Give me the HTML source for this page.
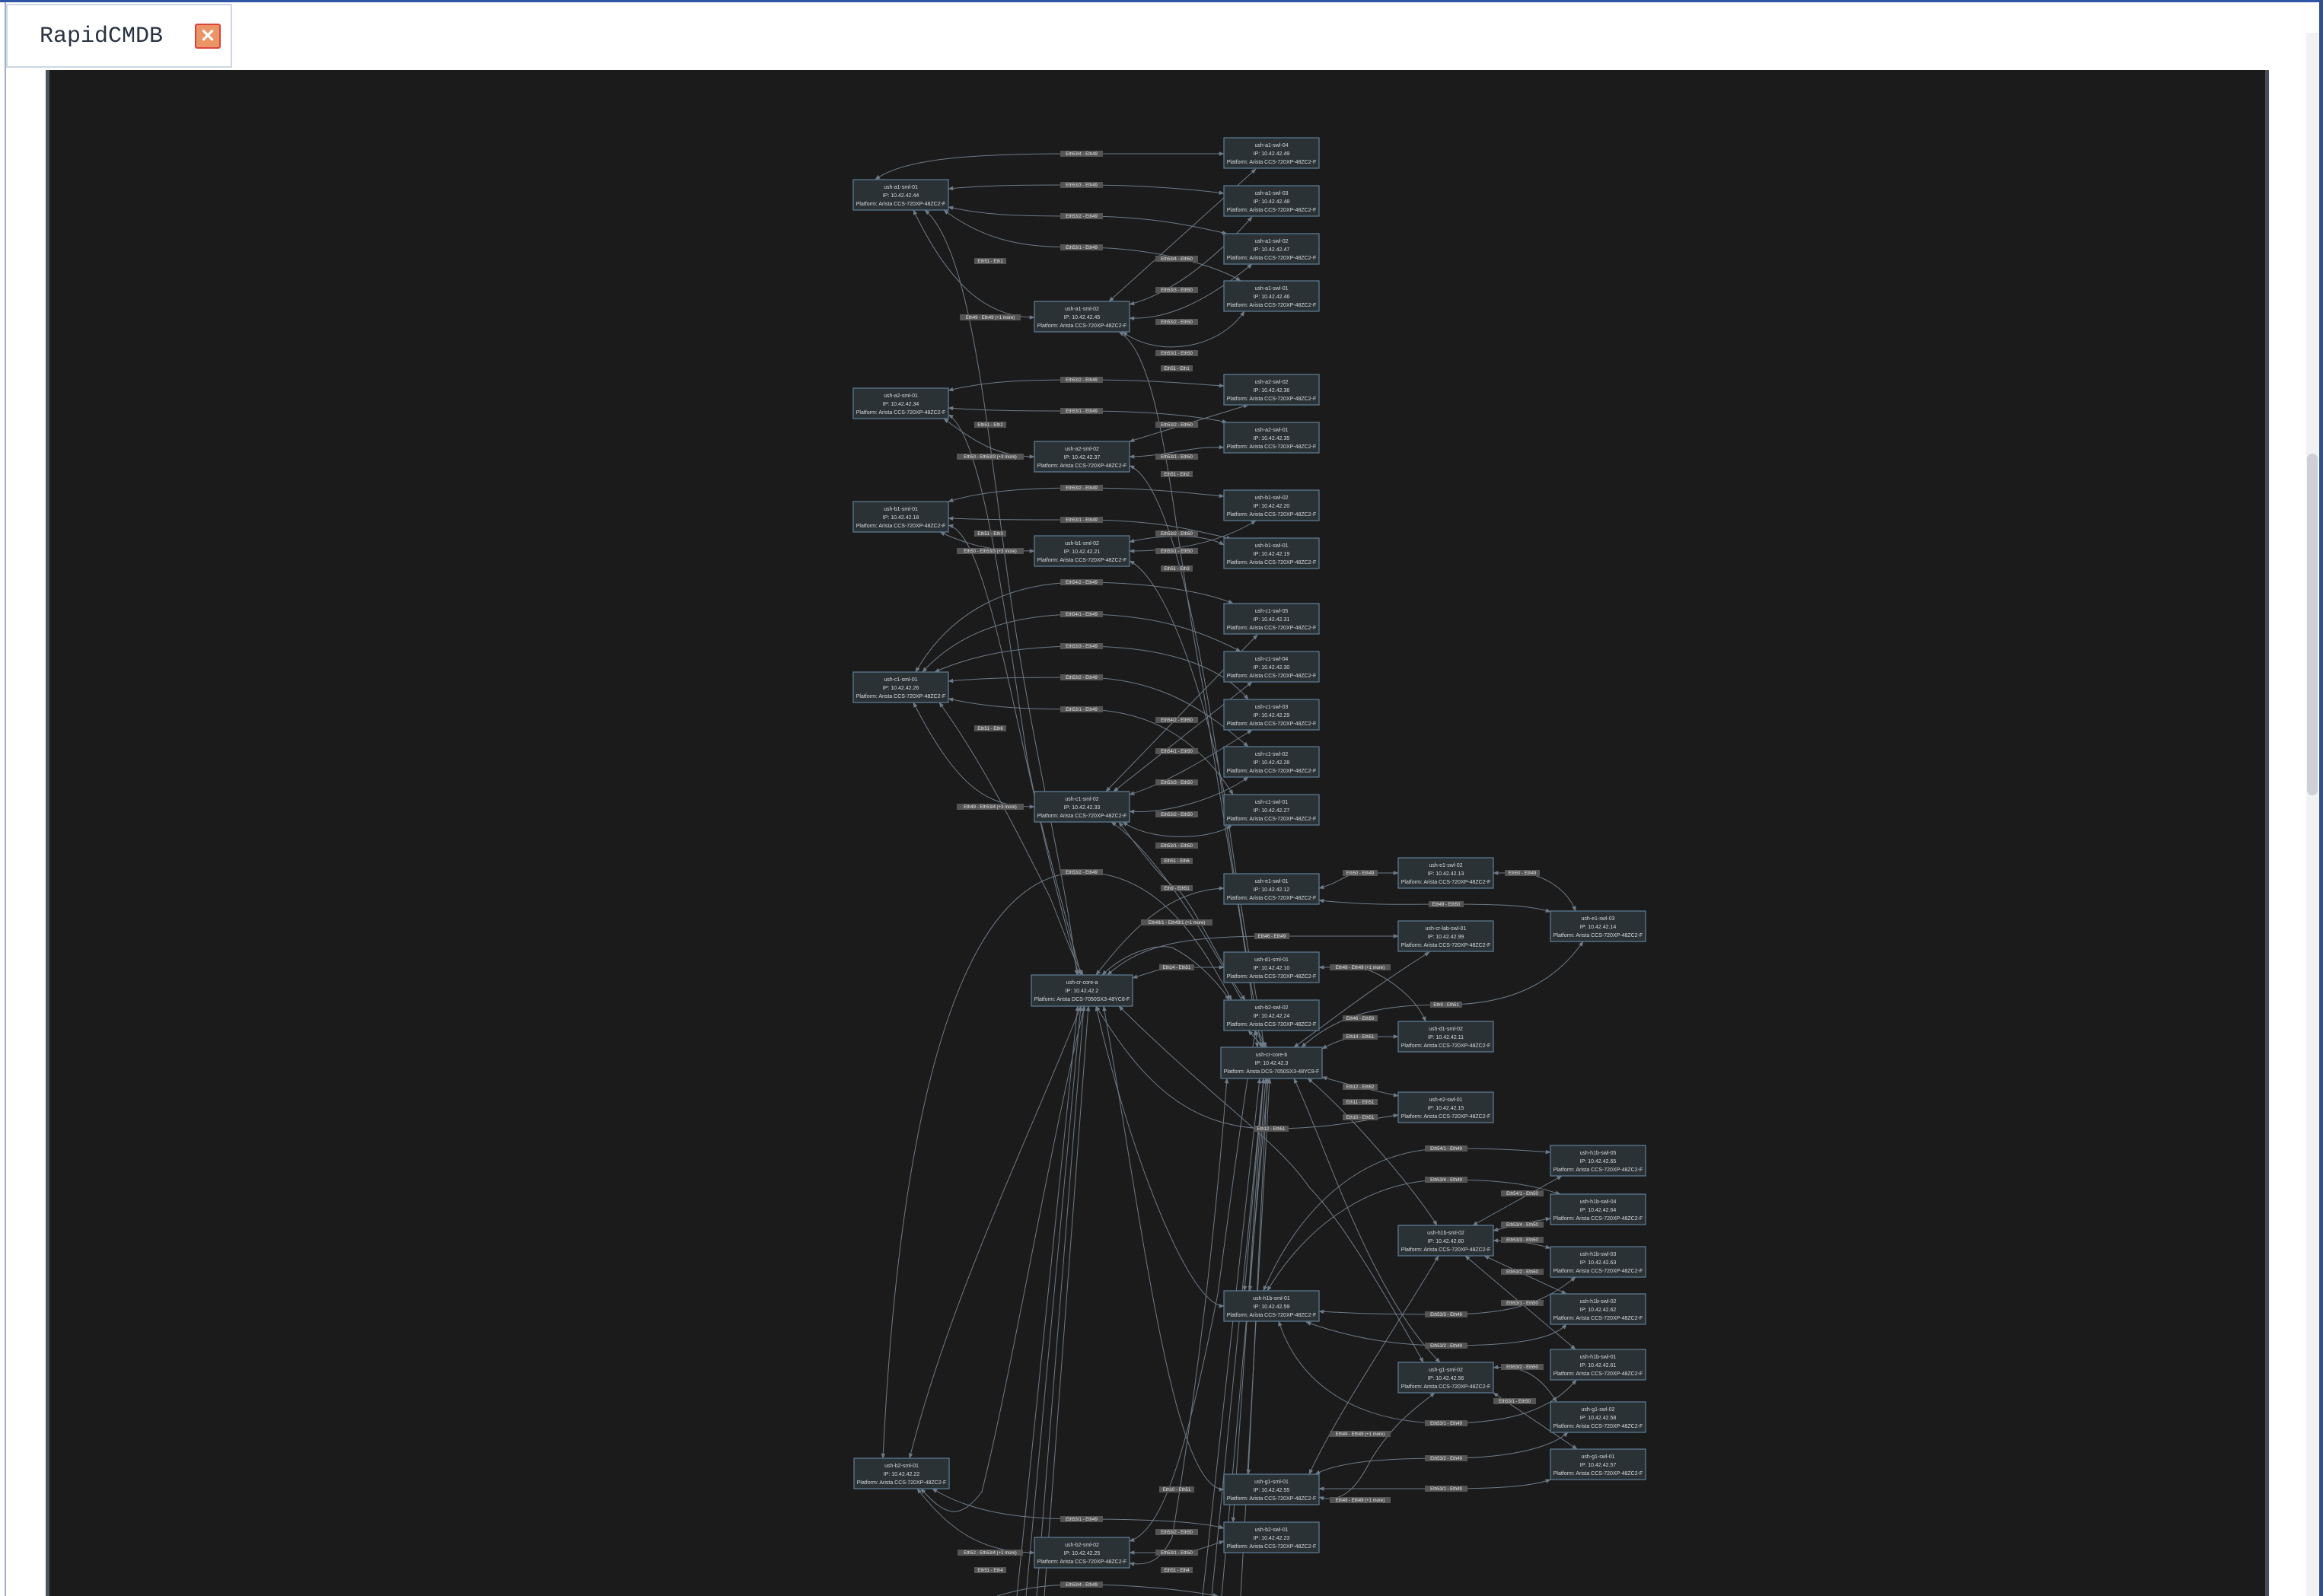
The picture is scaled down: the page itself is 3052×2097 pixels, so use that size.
<!DOCTYPE html>
<html><head><meta charset="utf-8"><style>
html,body{margin:0;padding:0;width:3052px;height:2097px;overflow:hidden;background:#fff;position:relative;font-family:"Liberation Sans",sans-serif}
#topline{position:absolute;left:0;top:0;width:3052px;height:3px;background:#2f55a4}
#leftline{position:absolute;left:6px;top:3px;width:2px;height:2094px;background:#9fb0c8}
#rightline{position:absolute;left:3047px;top:0;width:5px;height:2097px;background:#2f4f8f}
#hdr{position:absolute;left:8px;top:5px;width:293px;height:80px;border:2px solid #cdd6e2;background:#fff}
#hdr span{position:absolute;left:42px;top:24px;font:30px "Liberation Mono",monospace;color:#2a3340}
#x{position:absolute;left:246px;top:24px;width:30px;height:29px;background:#eb9466;border:2px solid #d9443a;border-radius:3px;color:#fff;font:bold 24px "Liberation Sans",sans-serif;text-align:center;line-height:29px}
#pl{position:absolute;left:60px;top:92px;width:5px;height:2005px;background:#4b535c}
#panel{position:absolute;left:65px;top:92px;width:2911px;height:2005px;background:#1b1b1b}
#pr{position:absolute;left:2976px;top:92px;width:5px;height:2005px;background:#474e57}
#track{position:absolute;left:3030px;top:43px;width:16px;height:2054px;background:#f2f2f2}
#thumb{position:absolute;left:3031px;top:596px;width:14px;height:449px;background:#cdd0d5;border-radius:7px}
svg{position:absolute;left:0;top:0}
.n rect{fill:#2b3236;stroke:#5b7890;stroke-width:1.3}
.n text{font-family:"Liberation Sans",sans-serif;font-size:7px;fill:#d8dadc;text-anchor:middle}
path.e{fill:none;stroke:#6e7a86;stroke-width:1;marker-start:url(#a);marker-end:url(#a)}
path.f{fill:none;stroke:#6e7a86;stroke-width:1;marker-end:url(#a)}
.l rect{fill:#545454}
.l text{font-family:"Liberation Sans",sans-serif;font-size:6px;fill:#e8e8e8;text-anchor:middle}
</style></head><body>
<div id="topline"></div><div id="leftline"></div>
<div id="hdr"><span>RapidCMDB</span><div id="x">✕</div></div>
<div id="pl"></div><div id="panel"></div><div id="pr"></div>
<div id="track"></div><div id="thumb"></div><div id="rightline"></div>
<svg width="3052" height="2097" viewBox="0 0 3052 2097">
<defs><marker id="a" viewBox="0 0 10 10" refX="9" refY="5" markerWidth="7" markerHeight="7" markerUnits="userSpaceOnUse" orient="auto-start-reverse"><path d="M0,1L10,5L0,9z" fill="#6e7a86"/></marker></defs>
<g>
<!-- a1 -->
<path class="e" d="M1150,236 C1190,205 1300,202 1421,202 L1608,202"/>
<path class="e" d="M1246,248 C1300,243 1350,243 1421,243 C1500,243 1560,248 1608,254"/>
<path class="e" d="M1246,272 C1300,284 1350,284 1421,284 C1520,284 1580,300 1612,307"/>
<path class="e" d="M1240,276 C1300,320 1350,325 1421,325 C1520,325 1600,350 1630,369"/>
<path class="e" d="M1457,396 L1650,222"/>
<path class="e" d="M1484,400 Q1560,380 1645,285"/>
<path class="e" d="M1484,418 C1530,420 1580,400 1645,347"/>
<path class="e" d="M1475,436 C1520,470 1600,460 1635,409"/>
<path class="e" d="M1200,276 C1250,380 1300,417 1359,417"/>
<path class="e" d="M1215,276 C1280,330 1300,600 1330,800 C1360,1000 1400,1150 1415,1281"/>
<path class="e" d="M1470,436 C1530,470 1540,700 1580,900 C1610,1100 1640,1250 1652,1376"/>
<!-- a2 -->
<path class="e" d="M1246,513 C1300,500 1350,499 1421,499 C1520,499 1570,505 1608,507"/>
<path class="e" d="M1246,536 C1300,540 1350,540 1421,540 C1520,540 1580,548 1612,555"/>
<path class="e" d="M1484,580 L1640,532"/>
<path class="e" d="M1484,600 C1530,600 1570,585 1608,588"/>
<path class="e" d="M1240,550 C1280,580 1310,600 1359,600"/>
<path class="e" d="M1246,545 C1290,570 1320,800 1350,1000 C1380,1150 1405,1230 1417,1281"/>
<path class="e" d="M1484,612 C1530,630 1570,800 1600,1000 C1620,1150 1645,1300 1657,1376"/>
<!-- b1 -->
<path class="e" d="M1246,659 C1290,645 1350,641 1421,641 C1520,641 1580,650 1608,652"/>
<path class="e" d="M1246,681 C1300,683 1350,683 1421,683 C1530,683 1580,700 1618,708"/>
<path class="e" d="M1484,712 C1520,703 1580,700 1608,716"/>
<path class="e" d="M1484,724 C1540,724 1600,715 1650,684"/>
<path class="e" d="M1235,699 C1280,720 1310,724 1359,724"/>
<path class="e" d="M1246,690 C1290,700 1320,880 1360,1050 C1390,1170 1410,1240 1420,1281"/>
<path class="e" d="M1484,737 C1530,760 1580,900 1610,1050 C1630,1200 1650,1300 1661,1376"/>
<!-- c1 -->
<path class="e" d="M1203,883 C1250,800 1330,765 1421,765 C1520,765 1590,780 1620,793"/>
<path class="e" d="M1212,883 C1260,830 1330,807 1421,807 C1520,807 1580,830 1630,856"/>
<path class="e" d="M1228,883 C1280,860 1340,849 1421,849 C1520,849 1600,870 1640,919"/>
<path class="e" d="M1246,895 C1300,890 1350,890 1421,890 C1520,890 1580,930 1640,981"/>
<path class="e" d="M1246,918 C1300,930 1350,932 1421,932 C1520,932 1580,980 1620,1044"/>
<path class="e" d="M1453,1040 L1652,834"/>
<path class="e" d="M1463,1040 L1645,896"/>
<path class="e" d="M1484,1044 C1530,1030 1580,1000 1645,959"/>
<path class="e" d="M1484,1066 C1530,1070 1600,1050 1640,1021"/>
<path class="e" d="M1475,1080 C1520,1110 1600,1100 1618,1084"/>
<path class="e" d="M1200,923 C1260,1040 1300,1060 1359,1060"/>
<path class="e" d="M1234,923 C1290,1000 1340,1100 1380,1180 C1400,1230 1410,1260 1423,1281"/>
<path class="e" d="M1460,1080 C1520,1120 1600,1250 1664,1376"/>
<!-- core area -->
<path class="e" d="M1160,1916 C1180,1500 1250,1146 1421,1146 C1500,1146 1560,1200 1618,1314"/>
<path class="e" d="M1440,1281 C1480,1230 1530,1170 1608,1167"/>
<path class="e" d="M1455,1281 C1500,1240 1560,1230 1671,1230 L1837,1230"/>
<path class="e" d="M1488,1285 C1520,1275 1530,1271 1546,1271 L1608,1271"/>
<path class="e" d="M1448,1281 C1480,1250 1520,1240 1540,1245 C1570,1260 1600,1290 1615,1314"/>
<path class="e" d="M1470,1080 C1500,1120 1530,1160 1546,1167 C1570,1190 1610,1280 1636,1314"/>
<path class="e" d="M1440,1322 C1500,1420 1560,1483 1670,1483 C1750,1483 1800,1470 1837,1465"/>
<path class="e" d="M1700,1376 C1750,1340 1800,1300 1878,1251"/>
<path class="e" d="M1710,1376 C1760,1330 1820,1320 1900,1320 C2000,1320 2050,1280 2080,1237"/>
<path class="e" d="M1737,1378 C1760,1365 1780,1362 1787,1362 L1837,1362"/>
<path class="e" d="M1737,1415 C1770,1425 1800,1432 1837,1440"/>
<path class="e" d="M1718,1417 C1760,1450 1850,1550 1888,1610"/>
<path class="e" d="M1700,1417 C1740,1500 1800,1700 1892,1790"/>
<path class="e" d="M1733,1271 L1787,1271 C1820,1280 1860,1310 1873,1342"/>
<path class="e" d="M1733,1167 C1760,1160 1770,1147 1787,1147 L1837,1147"/>
<path class="e" d="M1962,1147 L2000,1147 C2030,1150 2060,1170 2070,1197"/>
<path class="e" d="M1733,1183 C1800,1190 1850,1188 1900,1188 C1980,1188 2010,1190 2037,1198"/>
<path class="e" d="M1640,1354 L1660,1376"/>
<path class="e" d="M1648,1354 L1664,1376"/>
<!-- h1b -->
<path class="e" d="M1660,1696 C1700,1600 1780,1509 1900,1509 C1980,1509 2010,1512 2037,1514"/>
<path class="e" d="M1665,1696 C1710,1620 1790,1550 1900,1550 C1990,1550 2020,1560 2050,1569"/>
<path class="e" d="M1733,1723 C1800,1727 1850,1727 1900,1727 C1990,1727 2030,1710 2070,1678"/>
<path class="e" d="M1716,1737 C1780,1760 1840,1768 1900,1768 C1990,1768 2040,1760 2058,1740"/>
<path class="e" d="M1680,1736 C1700,1800 1760,1870 1900,1870 C1990,1870 2040,1850 2071,1813"/>
<path class="e" d="M1935,1610 L2052,1545"/>
<path class="e" d="M1962,1617 C1990,1610 2010,1605 2037,1601"/>
<path class="e" d="M1962,1630 C2000,1630 2020,1635 2037,1640"/>
<path class="e" d="M1950,1650 L2058,1700"/>
<path class="e" d="M1925,1650 L2070,1773"/>
<path class="e" d="M1890,1650 C1850,1720 1760,1850 1720,1937"/>
<path class="e" d="M1440,1322 C1480,1500 1560,1716 1608,1716"/>
<path class="e" d="M1635,1696 L1660,1417"/>
<path class="e" d="M1642,1696 L1663,1417"/>
<!-- g1 -->
<path class="e" d="M1728,1937 C1760,1920 1820,1916 1900,1916 C1990,1916 2040,1900 2060,1882"/>
<path class="e" d="M1733,1956 L1900,1956 C1990,1956 2020,1950 2037,1944"/>
<path class="e" d="M1962,1797 C1990,1794 2020,1800 2045,1842"/>
<path class="e" d="M1962,1830 L2072,1904"/>
<path class="e" d="M1733,1967 C1760,1975 1780,1960 1800,1920 C1830,1870 1860,1850 1885,1830"/>
<path class="e" d="M1450,1322 C1500,1600 1540,1957 1608,1957"/>
<path class="e" d="M1640,1937 L1665,1417"/>
<path class="e" d="M1870,1790 C1820,1700 1760,1600 1720,1560 C1680,1500 1600,1450 1470,1322"/>
<!-- b2 -->
<path class="e" d="M1225,1956 C1280,1990 1350,1996 1421,1996 C1520,1996 1580,2000 1608,2008"/>
<path class="e" d="M1484,2040 L1546,2040 C1570,2040 1590,2030 1608,2025"/>
<path class="e" d="M1484,2025 C1530,2010 1560,1900 1600,1700 C1620,1550 1640,1400 1650,1354"/>
<path class="e" d="M1205,1956 C1240,2000 1280,2040 1359,2040"/>
<path class="e" d="M1195,1916 C1250,1700 1350,1500 1420,1322"/>
<path class="e" d="M1210,1956 C1240,1990 1260,2000 1290,1960 C1330,1800 1380,1500 1425,1322"/>
<path class="e" d="M1620,2000 L1660,1417"/>
<path class="e" d="M1484,2054 C1510,2058 1525,2050 1540,2020 C1560,1900 1590,1700 1612,1417"/>
<path class="f" d="M1310,2097 C1350,2085 1380,2082 1421,2082 C1500,2082 1560,2090 1600,2097"/>
<path class="f" d="M1336,2097 L1416,1322"/>
<path class="f" d="M1348,2097 L1420,1322"/>
<path class="f" d="M1362,2097 L1424,1322"/>
<path class="f" d="M1372,2097 L1430,1322"/>
<path class="f" d="M1580,2097 L1655,1417"/>
<path class="f" d="M1592,2097 L1660,1417"/>
<path class="f" d="M1605,2097 L1666,1417"/>
<path class="f" d="M1630,2097 L1668,1417"/>
</g>
<g class="l">
<g transform="translate(1421,202)"><rect x="-28" y="-4" width="56" height="8"/><text y="2.2">Eth53/4 - Eth49</text></g>
<g transform="translate(1421,243)"><rect x="-28" y="-4" width="56" height="8"/><text y="2.2">Eth53/3 - Eth49</text></g>
<g transform="translate(1421,284)"><rect x="-28" y="-4" width="56" height="8"/><text y="2.2">Eth53/2 - Eth49</text></g>
<g transform="translate(1421,325)"><rect x="-28" y="-4" width="56" height="8"/><text y="2.2">Eth53/1 - Eth49</text></g>
<g transform="translate(1546,340)"><rect x="-28" y="-4" width="56" height="8"/><text y="2.2">Eth53/4 - Eth50</text></g>
<g transform="translate(1546,381)"><rect x="-28" y="-4" width="56" height="8"/><text y="2.2">Eth53/3 - Eth50</text></g>
<g transform="translate(1546,423)"><rect x="-28" y="-4" width="56" height="8"/><text y="2.2">Eth53/2 - Eth50</text></g>
<g transform="translate(1546,464)"><rect x="-28" y="-4" width="56" height="8"/><text y="2.2">Eth53/1 - Eth50</text></g>
<g transform="translate(1301,343)"><rect x="-21" y="-4" width="42" height="8"/><text y="2.2">Eth51 - Eth1</text></g>
<g transform="translate(1546,484)"><rect x="-21" y="-4" width="42" height="8"/><text y="2.2">Eth51 - Eth1</text></g>
<g transform="translate(1301,417)"><rect x="-40" y="-4" width="80" height="8"/><text y="2.2">Eth49 - Eth49 (+1 more)</text></g>
<g transform="translate(1421,499)"><rect x="-28" y="-4" width="56" height="8"/><text y="2.2">Eth53/2 - Eth49</text></g>
<g transform="translate(1421,540)"><rect x="-28" y="-4" width="56" height="8"/><text y="2.2">Eth53/1 - Eth49</text></g>
<g transform="translate(1546,558)"><rect x="-28" y="-4" width="56" height="8"/><text y="2.2">Eth53/2 - Eth50</text></g>
<g transform="translate(1546,600)"><rect x="-28" y="-4" width="56" height="8"/><text y="2.2">Eth53/1 - Eth50</text></g>
<g transform="translate(1301,558)"><rect x="-21" y="-4" width="42" height="8"/><text y="2.2">Eth51 - Eth2</text></g>
<g transform="translate(1546,623)"><rect x="-21" y="-4" width="42" height="8"/><text y="2.2">Eth51 - Eth2</text></g>
<g transform="translate(1301,600)"><rect x="-44" y="-4" width="88" height="8"/><text y="2.2">Eth50 - Eth53/3 (+3 more)</text></g>
<g transform="translate(1421,641)"><rect x="-28" y="-4" width="56" height="8"/><text y="2.2">Eth53/2 - Eth49</text></g>
<g transform="translate(1421,683)"><rect x="-28" y="-4" width="56" height="8"/><text y="2.2">Eth53/1 - Eth49</text></g>
<g transform="translate(1546,701)"><rect x="-28" y="-4" width="56" height="8"/><text y="2.2">Eth53/2 - Eth50</text></g>
<g transform="translate(1546,724)"><rect x="-28" y="-4" width="56" height="8"/><text y="2.2">Eth53/1 - Eth50</text></g>
<g transform="translate(1301,701)"><rect x="-21" y="-4" width="42" height="8"/><text y="2.2">Eth51 - Eth3</text></g>
<g transform="translate(1546,747)"><rect x="-21" y="-4" width="42" height="8"/><text y="2.2">Eth51 - Eth3</text></g>
<g transform="translate(1301,724)"><rect x="-44" y="-4" width="88" height="8"/><text y="2.2">Eth50 - Eth53/3 (+3 more)</text></g>
<g transform="translate(1421,765)"><rect x="-28" y="-4" width="56" height="8"/><text y="2.2">Eth54/2 - Eth49</text></g>
<g transform="translate(1421,807)"><rect x="-28" y="-4" width="56" height="8"/><text y="2.2">Eth54/1 - Eth49</text></g>
<g transform="translate(1421,849)"><rect x="-28" y="-4" width="56" height="8"/><text y="2.2">Eth53/3 - Eth49</text></g>
<g transform="translate(1421,890)"><rect x="-28" y="-4" width="56" height="8"/><text y="2.2">Eth53/2 - Eth49</text></g>
<g transform="translate(1421,932)"><rect x="-28" y="-4" width="56" height="8"/><text y="2.2">Eth53/1 - Eth49</text></g>
<g transform="translate(1546,946)"><rect x="-28" y="-4" width="56" height="8"/><text y="2.2">Eth54/2 - Eth50</text></g>
<g transform="translate(1546,987)"><rect x="-28" y="-4" width="56" height="8"/><text y="2.2">Eth54/1 - Eth50</text></g>
<g transform="translate(1546,1028)"><rect x="-28" y="-4" width="56" height="8"/><text y="2.2">Eth53/3 - Eth50</text></g>
<g transform="translate(1546,1070)"><rect x="-28" y="-4" width="56" height="8"/><text y="2.2">Eth53/2 - Eth50</text></g>
<g transform="translate(1546,1111)"><rect x="-28" y="-4" width="56" height="8"/><text y="2.2">Eth53/1 - Eth50</text></g>
<g transform="translate(1301,957)"><rect x="-21" y="-4" width="42" height="8"/><text y="2.2">Eth51 - Eth6</text></g>
<g transform="translate(1546,1131)"><rect x="-21" y="-4" width="42" height="8"/><text y="2.2">Eth51 - Eth6</text></g>
<g transform="translate(1301,1060)"><rect x="-44" y="-4" width="88" height="8"/><text y="2.2">Eth49 - Eth53/4 (+3 more)</text></g>
<g transform="translate(1421,1146)"><rect x="-28" y="-4" width="56" height="8"/><text y="2.2">Eth53/2 - Eth49</text></g>
<g transform="translate(1546,1167)"><rect x="-21" y="-4" width="42" height="8"/><text y="2.2">Eth9 - Eth51</text></g>
<g transform="translate(1546,1212)"><rect x="-47" y="-4" width="94" height="8"/><text y="2.2">Eth49/1 - Eth49/1 (+1 more)</text></g>
<g transform="translate(1671,1230)"><rect x="-23" y="-4" width="46" height="8"/><text y="2.2">Eth46 - Eth49</text></g>
<g transform="translate(1546,1271)"><rect x="-23" y="-4" width="46" height="8"/><text y="2.2">Eth14 - Eth51</text></g>
<g transform="translate(1787,1147)"><rect x="-23" y="-4" width="46" height="8"/><text y="2.2">Eth50 - Eth49</text></g>
<g transform="translate(2000,1147)"><rect x="-23" y="-4" width="46" height="8"/><text y="2.2">Eth50 - Eth49</text></g>
<g transform="translate(1900,1188)"><rect x="-23" y="-4" width="46" height="8"/><text y="2.2">Eth49 - Eth50</text></g>
<g transform="translate(1787,1271)"><rect x="-40" y="-4" width="80" height="8"/><text y="2.2">Eth49 - Eth49 (+1 more)</text></g>
<g transform="translate(1900,1320)"><rect x="-21" y="-4" width="42" height="8"/><text y="2.2">Eth9 - Eth51</text></g>
<g transform="translate(1787,1338)"><rect x="-23" y="-4" width="46" height="8"/><text y="2.2">Eth46 - Eth50</text></g>
<g transform="translate(1787,1362)"><rect x="-23" y="-4" width="46" height="8"/><text y="2.2">Eth14 - Eth51</text></g>
<g transform="translate(1787,1428)"><rect x="-23" y="-4" width="46" height="8"/><text y="2.2">Eth12 - Eth52</text></g>
<g transform="translate(1787,1448)"><rect x="-23" y="-4" width="46" height="8"/><text y="2.2">Eth11 - Eth51</text></g>
<g transform="translate(1787,1468)"><rect x="-23" y="-4" width="46" height="8"/><text y="2.2">Eth10 - Eth51</text></g>
<g transform="translate(1670,1483)"><rect x="-23" y="-4" width="46" height="8"/><text y="2.2">Eth12 - Eth51</text></g>
<g transform="translate(1900,1509)"><rect x="-28" y="-4" width="56" height="8"/><text y="2.2">Eth54/1 - Eth49</text></g>
<g transform="translate(1900,1550)"><rect x="-28" y="-4" width="56" height="8"/><text y="2.2">Eth53/4 - Eth49</text></g>
<g transform="translate(1900,1727)"><rect x="-28" y="-4" width="56" height="8"/><text y="2.2">Eth53/3 - Eth49</text></g>
<g transform="translate(1900,1768)"><rect x="-28" y="-4" width="56" height="8"/><text y="2.2">Eth53/2 - Eth49</text></g>
<g transform="translate(1900,1870)"><rect x="-28" y="-4" width="56" height="8"/><text y="2.2">Eth53/1 - Eth49</text></g>
<g transform="translate(2000,1568)"><rect x="-28" y="-4" width="56" height="8"/><text y="2.2">Eth54/1 - Eth50</text></g>
<g transform="translate(2000,1609)"><rect x="-28" y="-4" width="56" height="8"/><text y="2.2">Eth53/4 - Eth50</text></g>
<g transform="translate(2000,1629)"><rect x="-28" y="-4" width="56" height="8"/><text y="2.2">Eth53/3 - Eth50</text></g>
<g transform="translate(2000,1671)"><rect x="-28" y="-4" width="56" height="8"/><text y="2.2">Eth53/2 - Eth50</text></g>
<g transform="translate(2000,1712)"><rect x="-28" y="-4" width="56" height="8"/><text y="2.2">Eth53/1 - Eth50</text></g>
<g transform="translate(2000,1796)"><rect x="-28" y="-4" width="56" height="8"/><text y="2.2">Eth53/2 - Eth50</text></g>
<g transform="translate(1990,1841)"><rect x="-28" y="-4" width="56" height="8"/><text y="2.2">Eth53/1 - Eth50</text></g>
<g transform="translate(1900,1916)"><rect x="-28" y="-4" width="56" height="8"/><text y="2.2">Eth53/2 - Eth49</text></g>
<g transform="translate(1900,1956)"><rect x="-28" y="-4" width="56" height="8"/><text y="2.2">Eth53/1 - Eth49</text></g>
<g transform="translate(1787,1884)"><rect x="-40" y="-4" width="80" height="8"/><text y="2.2">Eth49 - Eth49 (+1 more)</text></g>
<g transform="translate(1787,1971)"><rect x="-40" y="-4" width="80" height="8"/><text y="2.2">Eth49 - Eth49 (+1 more)</text></g>
<g transform="translate(1546,1957)"><rect x="-23" y="-4" width="46" height="8"/><text y="2.2">Eth10 - Eth51</text></g>
<g transform="translate(1421,1996)"><rect x="-28" y="-4" width="56" height="8"/><text y="2.2">Eth53/1 - Eth49</text></g>
<g transform="translate(1546,2013)"><rect x="-28" y="-4" width="56" height="8"/><text y="2.2">Eth53/2 - Eth50</text></g>
<g transform="translate(1546,2040)"><rect x="-28" y="-4" width="56" height="8"/><text y="2.2">Eth53/1 - Eth50</text></g>
<g transform="translate(1301,2040)"><rect x="-43" y="-4" width="86" height="8"/><text y="2.2">Eth52 - Eth53/4 (+1 more)</text></g>
<g transform="translate(1301,2063)"><rect x="-21" y="-4" width="42" height="8"/><text y="2.2">Eth51 - Eth4</text></g>
<g transform="translate(1546,2063)"><rect x="-21" y="-4" width="42" height="8"/><text y="2.2">Eth51 - Eth4</text></g>
<g transform="translate(1421,2082)"><rect x="-28" y="-4" width="56" height="8"/><text y="2.2">Eth53/4 - Eth49</text></g>
</g>
<g class="n">
<g transform="translate(1121,236)"><rect width="125" height="40"/><text x="62.5" y="12">ush-a1-sml-01</text><text x="62.5" y="23">IP: 10.42.42.44</text><text x="62.5" y="34">Platform: Arista CCS-720XP-48ZC2-F</text></g>
<g transform="translate(1608,181)"><rect width="125" height="40"/><text x="62.5" y="12">ush-a1-swl-04</text><text x="62.5" y="23">IP: 10.42.42.49</text><text x="62.5" y="34">Platform: Arista CCS-720XP-48ZC2-F</text></g>
<g transform="translate(1608,244)"><rect width="125" height="40"/><text x="62.5" y="12">ush-a1-swl-03</text><text x="62.5" y="23">IP: 10.42.42.48</text><text x="62.5" y="34">Platform: Arista CCS-720XP-48ZC2-F</text></g>
<g transform="translate(1608,307)"><rect width="125" height="40"/><text x="62.5" y="12">ush-a1-swl-02</text><text x="62.5" y="23">IP: 10.42.42.47</text><text x="62.5" y="34">Platform: Arista CCS-720XP-48ZC2-F</text></g>
<g transform="translate(1608,369)"><rect width="125" height="40"/><text x="62.5" y="12">ush-a1-swl-01</text><text x="62.5" y="23">IP: 10.42.42.46</text><text x="62.5" y="34">Platform: Arista CCS-720XP-48ZC2-F</text></g>
<g transform="translate(1359,396)"><rect width="125" height="40"/><text x="62.5" y="12">ush-a1-sml-02</text><text x="62.5" y="23">IP: 10.42.42.45</text><text x="62.5" y="34">Platform: Arista CCS-720XP-48ZC2-F</text></g>
<g transform="translate(1121,510)"><rect width="125" height="40"/><text x="62.5" y="12">ush-a2-sml-01</text><text x="62.5" y="23">IP: 10.42.42.34</text><text x="62.5" y="34">Platform: Arista CCS-720XP-48ZC2-F</text></g>
<g transform="translate(1608,492)"><rect width="125" height="40"/><text x="62.5" y="12">ush-a2-swl-02</text><text x="62.5" y="23">IP: 10.42.42.36</text><text x="62.5" y="34">Platform: Arista CCS-720XP-48ZC2-F</text></g>
<g transform="translate(1608,555)"><rect width="125" height="40"/><text x="62.5" y="12">ush-a2-swl-01</text><text x="62.5" y="23">IP: 10.42.42.35</text><text x="62.5" y="34">Platform: Arista CCS-720XP-48ZC2-F</text></g>
<g transform="translate(1359,580)"><rect width="125" height="40"/><text x="62.5" y="12">ush-a2-sml-02</text><text x="62.5" y="23">IP: 10.42.42.37</text><text x="62.5" y="34">Platform: Arista CCS-720XP-48ZC2-F</text></g>
<g transform="translate(1121,659)"><rect width="125" height="40"/><text x="62.5" y="12">ush-b1-sml-01</text><text x="62.5" y="23">IP: 10.42.42.18</text><text x="62.5" y="34">Platform: Arista CCS-720XP-48ZC2-F</text></g>
<g transform="translate(1608,644)"><rect width="125" height="40"/><text x="62.5" y="12">ush-b1-swl-02</text><text x="62.5" y="23">IP: 10.42.42.20</text><text x="62.5" y="34">Platform: Arista CCS-720XP-48ZC2-F</text></g>
<g transform="translate(1608,707)"><rect width="125" height="40"/><text x="62.5" y="12">ush-b1-swl-01</text><text x="62.5" y="23">IP: 10.42.42.19</text><text x="62.5" y="34">Platform: Arista CCS-720XP-48ZC2-F</text></g>
<g transform="translate(1359,704)"><rect width="125" height="40"/><text x="62.5" y="12">ush-b1-sml-02</text><text x="62.5" y="23">IP: 10.42.42.21</text><text x="62.5" y="34">Platform: Arista CCS-720XP-48ZC2-F</text></g>
<g transform="translate(1608,793)"><rect width="125" height="40"/><text x="62.5" y="12">ush-c1-swl-05</text><text x="62.5" y="23">IP: 10.42.42.31</text><text x="62.5" y="34">Platform: Arista CCS-720XP-48ZC2-F</text></g>
<g transform="translate(1608,856)"><rect width="125" height="40"/><text x="62.5" y="12">ush-c1-swl-04</text><text x="62.5" y="23">IP: 10.42.42.30</text><text x="62.5" y="34">Platform: Arista CCS-720XP-48ZC2-F</text></g>
<g transform="translate(1121,883)"><rect width="125" height="40"/><text x="62.5" y="12">ush-c1-sml-01</text><text x="62.5" y="23">IP: 10.42.42.26</text><text x="62.5" y="34">Platform: Arista CCS-720XP-48ZC2-F</text></g>
<g transform="translate(1608,919)"><rect width="125" height="40"/><text x="62.5" y="12">ush-c1-swl-03</text><text x="62.5" y="23">IP: 10.42.42.29</text><text x="62.5" y="34">Platform: Arista CCS-720XP-48ZC2-F</text></g>
<g transform="translate(1608,981)"><rect width="125" height="40"/><text x="62.5" y="12">ush-c1-swl-02</text><text x="62.5" y="23">IP: 10.42.42.28</text><text x="62.5" y="34">Platform: Arista CCS-720XP-48ZC2-F</text></g>
<g transform="translate(1608,1044)"><rect width="125" height="40"/><text x="62.5" y="12">ush-c1-swl-01</text><text x="62.5" y="23">IP: 10.42.42.27</text><text x="62.5" y="34">Platform: Arista CCS-720XP-48ZC2-F</text></g>
<g transform="translate(1359,1040)"><rect width="125" height="40"/><text x="62.5" y="12">ush-c1-sml-02</text><text x="62.5" y="23">IP: 10.42.42.33</text><text x="62.5" y="34">Platform: Arista CCS-720XP-48ZC2-F</text></g>
<g transform="translate(1608,1148)"><rect width="125" height="40"/><text x="62.5" y="12">ush-e1-swl-01</text><text x="62.5" y="23">IP: 10.42.42.12</text><text x="62.5" y="34">Platform: Arista CCS-720XP-48ZC2-F</text></g>
<g transform="translate(1837,1127)"><rect width="125" height="40"/><text x="62.5" y="12">ush-e1-swl-02</text><text x="62.5" y="23">IP: 10.42.42.13</text><text x="62.5" y="34">Platform: Arista CCS-720XP-48ZC2-F</text></g>
<g transform="translate(2037,1197)"><rect width="125" height="40"/><text x="62.5" y="12">ush-e1-swl-03</text><text x="62.5" y="23">IP: 10.42.42.14</text><text x="62.5" y="34">Platform: Arista CCS-720XP-48ZC2-F</text></g>
<g transform="translate(1837,1210)"><rect width="125" height="40"/><text x="62.5" y="12">ush-cr-lab-swl-01</text><text x="62.5" y="23">IP: 10.42.42.99</text><text x="62.5" y="34">Platform: Arista CCS-720XP-48ZC2-F</text></g>
<g transform="translate(1608,1251)"><rect width="125" height="40"/><text x="62.5" y="12">ush-d1-sml-01</text><text x="62.5" y="23">IP: 10.42.42.10</text><text x="62.5" y="34">Platform: Arista CCS-720XP-48ZC2-F</text></g>
<g transform="translate(1355,1281)"><rect width="133" height="41"/><text x="66.5" y="12">ush-cr-core-a</text><text x="66.5" y="23">IP: 10.42.42.2</text><text x="66.5" y="34">Platform: Arista DCS-7050SX3-48YC8-F</text></g>
<g transform="translate(1608,1314)"><rect width="125" height="40"/><text x="62.5" y="12">ush-b2-swl-02</text><text x="62.5" y="23">IP: 10.42.42.24</text><text x="62.5" y="34">Platform: Arista CCS-720XP-48ZC2-F</text></g>
<g transform="translate(1837,1342)"><rect width="125" height="40"/><text x="62.5" y="12">ush-d1-sml-02</text><text x="62.5" y="23">IP: 10.42.42.11</text><text x="62.5" y="34">Platform: Arista CCS-720XP-48ZC2-F</text></g>
<g transform="translate(1604,1376)"><rect width="133" height="41"/><text x="66.5" y="12">ush-cr-core-b</text><text x="66.5" y="23">IP: 10.42.42.3</text><text x="66.5" y="34">Platform: Arista DCS-7050SX3-48YC8-F</text></g>
<g transform="translate(1837,1435)"><rect width="125" height="40"/><text x="62.5" y="12">ush-e2-swl-01</text><text x="62.5" y="23">IP: 10.42.42.15</text><text x="62.5" y="34">Platform: Arista CCS-720XP-48ZC2-F</text></g>
<g transform="translate(2037,1505)"><rect width="125" height="40"/><text x="62.5" y="12">ush-h1b-swl-05</text><text x="62.5" y="23">IP: 10.42.42.65</text><text x="62.5" y="34">Platform: Arista CCS-720XP-48ZC2-F</text></g>
<g transform="translate(2037,1569)"><rect width="125" height="40"/><text x="62.5" y="12">ush-h1b-swl-04</text><text x="62.5" y="23">IP: 10.42.42.64</text><text x="62.5" y="34">Platform: Arista CCS-720XP-48ZC2-F</text></g>
<g transform="translate(1837,1610)"><rect width="125" height="40"/><text x="62.5" y="12">ush-h1b-sml-02</text><text x="62.5" y="23">IP: 10.42.42.60</text><text x="62.5" y="34">Platform: Arista CCS-720XP-48ZC2-F</text></g>
<g transform="translate(2037,1638)"><rect width="125" height="40"/><text x="62.5" y="12">ush-h1b-swl-03</text><text x="62.5" y="23">IP: 10.42.42.63</text><text x="62.5" y="34">Platform: Arista CCS-720XP-48ZC2-F</text></g>
<g transform="translate(1608,1696)"><rect width="125" height="40"/><text x="62.5" y="12">ush-h1b-sml-01</text><text x="62.5" y="23">IP: 10.42.42.59</text><text x="62.5" y="34">Platform: Arista CCS-720XP-48ZC2-F</text></g>
<g transform="translate(2037,1700)"><rect width="125" height="40"/><text x="62.5" y="12">ush-h1b-swl-02</text><text x="62.5" y="23">IP: 10.42.42.62</text><text x="62.5" y="34">Platform: Arista CCS-720XP-48ZC2-F</text></g>
<g transform="translate(2037,1773)"><rect width="125" height="40"/><text x="62.5" y="12">ush-h1b-swl-01</text><text x="62.5" y="23">IP: 10.42.42.61</text><text x="62.5" y="34">Platform: Arista CCS-720XP-48ZC2-F</text></g>
<g transform="translate(1837,1790)"><rect width="125" height="40"/><text x="62.5" y="12">ush-g1-sml-02</text><text x="62.5" y="23">IP: 10.42.42.56</text><text x="62.5" y="34">Platform: Arista CCS-720XP-48ZC2-F</text></g>
<g transform="translate(2037,1842)"><rect width="125" height="40"/><text x="62.5" y="12">ush-g1-swl-02</text><text x="62.5" y="23">IP: 10.42.42.58</text><text x="62.5" y="34">Platform: Arista CCS-720XP-48ZC2-F</text></g>
<g transform="translate(2037,1904)"><rect width="125" height="40"/><text x="62.5" y="12">ush-g1-swl-01</text><text x="62.5" y="23">IP: 10.42.42.57</text><text x="62.5" y="34">Platform: Arista CCS-720XP-48ZC2-F</text></g>
<g transform="translate(1122,1916)"><rect width="125" height="40"/><text x="62.5" y="12">ush-b2-sml-01</text><text x="62.5" y="23">IP: 10.42.42.22</text><text x="62.5" y="34">Platform: Arista CCS-720XP-48ZC2-F</text></g>
<g transform="translate(1608,1937)"><rect width="125" height="40"/><text x="62.5" y="12">ush-g1-sml-01</text><text x="62.5" y="23">IP: 10.42.42.55</text><text x="62.5" y="34">Platform: Arista CCS-720XP-48ZC2-F</text></g>
<g transform="translate(1608,2000)"><rect width="125" height="40"/><text x="62.5" y="12">ush-b2-swl-01</text><text x="62.5" y="23">IP: 10.42.42.23</text><text x="62.5" y="34">Platform: Arista CCS-720XP-48ZC2-F</text></g>
<g transform="translate(1359,2020)"><rect width="125" height="40"/><text x="62.5" y="12">ush-b2-sml-02</text><text x="62.5" y="23">IP: 10.42.42.25</text><text x="62.5" y="34">Platform: Arista CCS-720XP-48ZC2-F</text></g>
</g>
</svg>
</body></html>
